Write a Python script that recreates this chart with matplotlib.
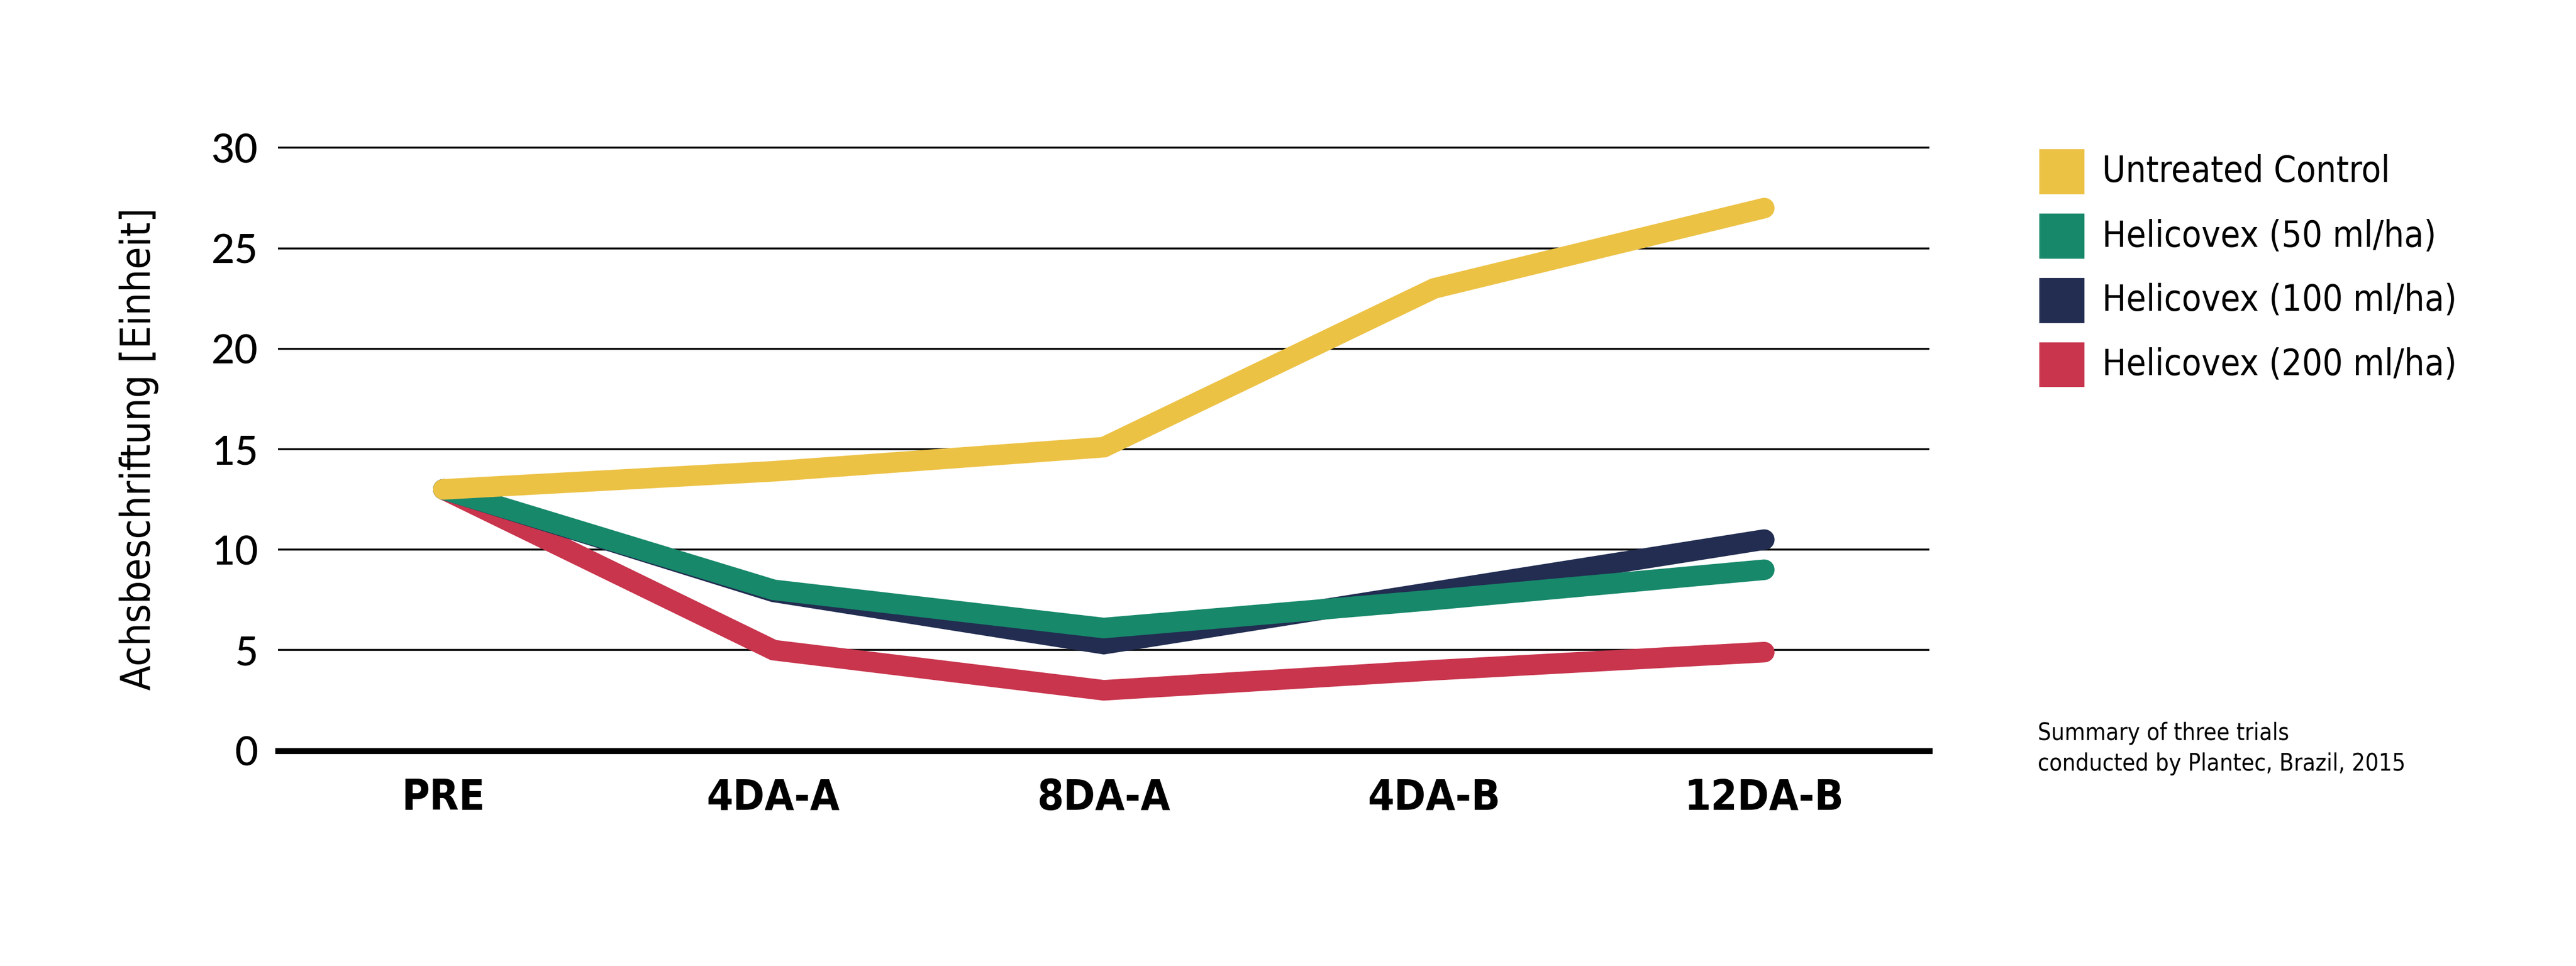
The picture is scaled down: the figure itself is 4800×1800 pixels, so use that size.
import matplotlib
matplotlib.use("Agg")
import matplotlib.pyplot as plt
from matplotlib.patches import Rectangle

# data
categories = ["PRE", "4DA-A", "8DA-A", "4DA-B", "12DA-B"]
untreated = [13.0, 13.9, 15.1, 23.0, 27.0]
helico_50 = [13.0, 8.0, 6.1, 7.5, 9.0]
helico_100 = [13.0, 7.9, 5.3, 7.9, 10.5]
helico_200 = [13.0, 5.0, 3.0, 4.0, 4.9]
series_names = ["Untreated Control", "Helicovex (50 ml/ha)",
                "Helicovex (100 ml/ha)", "Helicovex (200 ml/ha)"]
colors = ["#ECC245", "#17886A", "#222D51", "#C8354D"]
y_ticks = [0, 5, 10, 15, 20, 25, 30]

plt.rcParams["font.family"] = ["Lato", "DejaVu Sans"]
narrow = dict(family=["DejaVu Sans"], fontstretch="condensed")

fig = plt.figure(figsize=(16, 6), dpi=300)
ax = fig.add_axes([0.108, 0.223, 0.641, 0.624])

x = range(len(categories))
all_series = [untreated, helico_50, helico_100, helico_200]
# draw bottom to top: red, navy, green, yellow
for idx in [3, 2, 1, 0]:
    ax.plot(x, all_series[idx], color=colors[idx], lw=9.2,
            solid_capstyle="round", solid_joinstyle="miter", zorder=3 + (3 - idx),
            clip_on=False)

ax.set_xlim(-0.5, 4.5)
ax.set_ylim(0, 30)
ax.set_yticks(y_ticks)
ax.set_xticks(list(x))
ax.set_xticklabels(categories, fontweight="bold", fontsize=19, **narrow)
ax.set_yticklabels([str(v) for v in y_ticks], fontsize=18, fontweight="medium")
ax.tick_params(axis="y", length=0, pad=9)
ax.tick_params(axis="x", length=0, pad=12)

for s in ["top", "right", "left"]:
    ax.spines[s].set_visible(False)
ax.spines["bottom"].set_linewidth(2.7)
ax.spines["bottom"].set_color("black")
ax.spines["bottom"].set_zorder(2)
ax.hlines(y_ticks[1:], -0.5, 4.5, color="black", lw=0.85, zorder=1, clip_on=False)

fig.text(0.054, 0.535, "Achsbeschriftung [Einheit]", rotation=90,
         ha="center", va="center", fontsize=18.2, **narrow)

# legend
for i, (name, c) in enumerate(zip(series_names, colors)):
    yc = 0.822 - i * 0.0665
    fig.patches.append(Rectangle((0.792, yc - 0.0222), 0.0167, 0.0444,
                                 transform=fig.transFigure, color=c))
    fig.text(0.816, yc, name, ha="left", va="center", fontsize=16, **narrow)

fig.text(0.791, 0.241, "Summary of three trials", ha="left", va="center",
         fontsize=10.5, **narrow)
fig.text(0.791, 0.209, "conducted by Plantec, Brazil, 2015", ha="left", va="center",
         fontsize=10.5, **narrow)

fig.savefig("out.png", dpi=300, facecolor="white")
